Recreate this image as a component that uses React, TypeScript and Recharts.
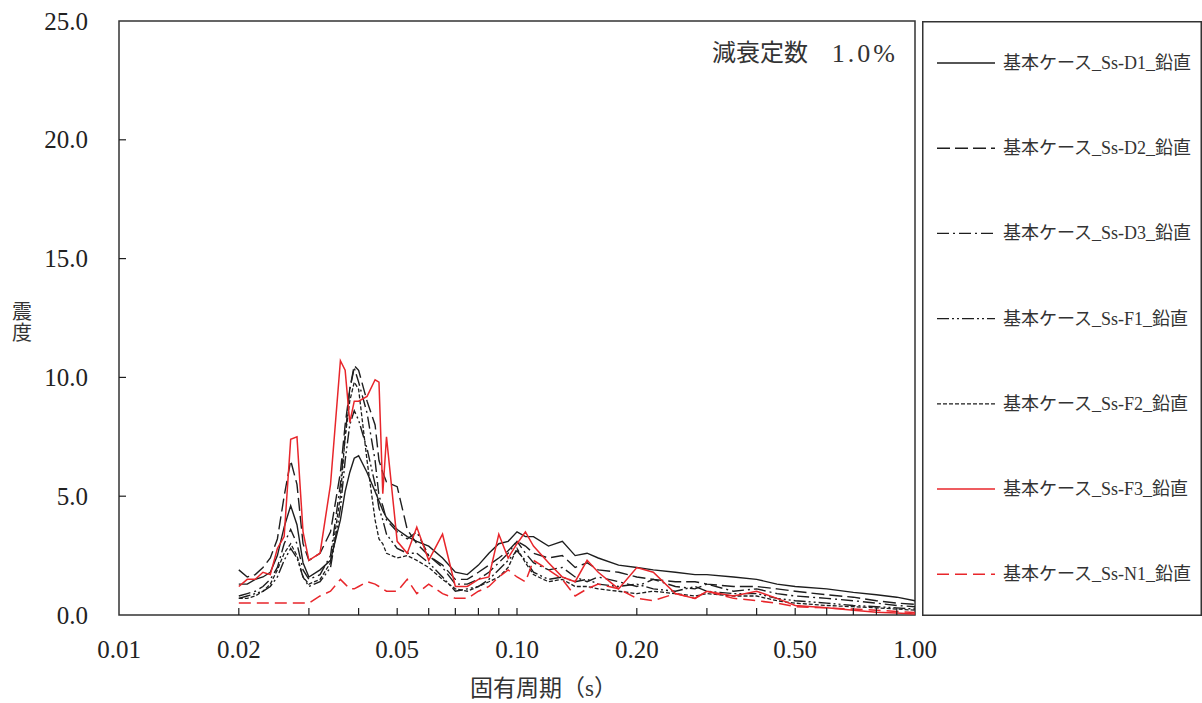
import { LineChart, Line, XAxis, YAxis, ReferenceArea } from "recharts";

// natural period (s)
const periods = [
  0.02, 0.021, 0.022, 0.023, 0.024, 0.025, 0.026, 0.027, 0.028, 0.029, 0.03,
  0.032, 0.034, 0.036, 0.037, 0.038, 0.039, 0.04, 0.042, 0.044, 0.045, 0.046,
  0.047, 0.05, 0.053, 0.056, 0.06, 0.065, 0.07, 0.075, 0.08, 0.085, 0.09,
  0.095, 0.1, 0.105, 0.11, 0.12, 0.13, 0.14, 0.15, 0.16, 0.18, 0.2, 0.22,
  0.25, 0.28, 0.3, 0.35, 0.4, 0.45, 0.5, 0.6, 0.7, 0.8, 0.9, 1.0,
];

const ssD1 = [
  1.3, 1.3, 1.5, 1.6, 1.8, 2.5, 3.7, 4.6, 3.8, 2.2, 1.6, 1.9, 2.3, 4.0, 5.2,
  6.0, 6.6, 6.7, 6.0, 5.2, 4.8, 4.4, 4.1, 3.6, 3.3, 3.1, 2.9, 2.4, 1.8, 1.7,
  2.1, 2.6, 3.0, 3.1, 3.5, 3.3, 3.3, 2.9, 3.1, 2.5, 2.6, 2.4, 2.1, 2.0, 1.9,
  1.8, 1.7, 1.7, 1.6, 1.5, 1.3, 1.2, 1.1, 0.95, 0.85, 0.75, 0.6,
];
const ssD2 = [
  1.9, 1.6, 1.7, 2.0, 2.4, 3.2, 5.0, 6.5, 5.5, 3.0, 2.3, 2.6, 3.5, 6.0, 8.0,
  9.5, 10.5, 10.3, 9.0, 8.0, 6.5, 6.0, 5.6, 5.4, 3.6, 3.0, 2.5, 2.1, 1.5, 1.5,
  1.8, 2.1, 2.4, 2.7, 3.1, 2.9, 2.6, 2.4, 2.5, 2.0, 2.2, 1.9, 1.8, 1.6, 1.5,
  1.4, 1.4, 1.3, 1.2, 1.2, 1.1, 1.0, 0.85, 0.75, 0.6, 0.5, 0.45,
];
const ssD3 = [
  0.8, 0.9, 1.0, 1.2, 1.5, 2.0, 3.0, 3.6, 3.0, 1.9, 1.5, 1.7, 2.5, 5.5, 7.5,
  9.5, 10.4, 9.8, 8.5, 6.5, 5.0, 4.6, 4.0, 3.5, 3.2, 3.5, 2.5, 2.0, 1.3, 1.3,
  1.5, 1.8, 2.2, 2.6, 3.1, 2.6, 2.2, 1.9, 2.0, 1.6, 1.4, 1.6, 1.4, 1.2, 1.5,
  1.2, 1.1, 1.3, 1.0, 1.1, 0.9, 0.8, 0.7, 0.6, 0.5, 0.4, 0.35,
];
const ssF1 = [
  0.7, 0.8, 0.9, 1.0, 1.2, 1.6, 2.3, 2.8, 2.4, 1.6, 1.2, 1.4, 2.0, 4.5, 6.5,
  8.0, 8.6, 8.2, 7.0, 5.5, 4.5, 4.0, 3.4, 2.8, 2.6, 2.6, 2.2, 1.6, 1.0, 1.1,
  1.2, 1.5, 1.9, 2.3, 2.7, 2.3, 1.8, 1.5, 1.6, 1.4, 1.5, 1.3, 1.2, 1.3, 1.1,
  1.0, 1.2, 1.0, 0.9, 0.9, 0.7, 0.6, 0.5, 0.4, 0.35, 0.3, 0.25,
];
const ssF2 = [
  0.7, 0.7, 0.8, 1.0, 1.3, 1.9, 2.6, 3.0, 2.5, 1.6, 1.3, 1.5, 2.2, 5.0, 7.5,
  9.0, 9.8, 9.5, 6.5, 4.0, 3.2, 3.0, 2.6, 2.4, 2.5, 2.3, 2.0, 1.5, 1.1, 1.0,
  1.2, 1.4, 1.6, 2.0, 2.8, 2.2, 1.7, 1.4, 1.5, 1.2, 1.2, 1.1, 1.0, 0.9, 1.0,
  0.9, 0.8, 0.9, 0.8, 0.8, 0.6, 0.5, 0.4, 0.35, 0.3, 0.25, 0.2,
];
const ssF3 = [
  1.2, 1.5, 1.5, 1.8, 1.7, 2.8, 3.3, 7.4, 7.5, 3.5, 2.3, 2.6, 5.5, 10.7, 10.3,
  8.1, 9.0, 9.0, 9.2, 9.9, 9.8, 5.1, 7.5, 3.1, 2.6, 3.7, 2.3, 3.4, 1.2, 1.2,
  1.5, 1.6, 3.4, 2.4, 3.0, 3.5, 2.9, 2.2, 1.6, 1.4, 2.3, 1.8, 1.1, 2.0, 1.8,
  0.9, 0.7, 1.0, 0.8, 1.0, 0.7, 0.4, 0.3, 0.2, 0.12, 0.08, 0.04,
];
const ssN1 = [
  0.5, 0.5, 0.5, 0.5, 0.5, 0.5, 0.5, 0.5, 0.5, 0.5, 0.5, 0.8, 1.0, 1.5, 1.3,
  1.1, 1.1, 1.2, 1.4, 1.3, 1.2, 1.1, 1.0, 1.0, 1.5, 0.9, 1.3, 0.9, 0.7, 0.7,
  1.0, 1.2, 1.6, 1.9, 1.6, 1.4, 2.3, 1.9, 1.5, 0.8, 1.1, 1.3, 1.1, 0.7, 0.6,
  0.9, 0.7, 1.0, 0.7, 0.6, 0.5, 0.35, 0.3, 0.25, 0.2, 0.15, 0.1,
];

const xTicks = [
  0.01, 0.02, 0.03, 0.04, 0.05, 0.06, 0.07, 0.08, 0.09, 0.1, 0.2, 0.3, 0.4,
  0.5, 0.6, 0.7, 0.8, 0.9, 1.0,
];
const xLabels = [0.01, 0.02, 0.05, 0.1, 0.2, 0.5, 1.0];
const yTicks = [0, 5, 10, 15, 20, 25];

const seriesNames = [
  "基本ケース_Ss-D1_鉛直",
  "基本ケース_Ss-D2_鉛直",
  "基本ケース_Ss-D3_鉛直",
  "基本ケース_Ss-F1_鉛直",
  "基本ケース_Ss-F2_鉛直",
  "基本ケース_Ss-F3_鉛直",
  "基本ケース_Ss-N1_鉛直",
];

const data = periods.map((p, i) => ({
  p,
  d1: ssD1[i],
  d2: ssD2[i],
  d3: ssD3[i],
  f1: ssF1[i],
  f2: ssF2[i],
  f3: ssF3[i],
  n1: ssN1[i],
}));

const BLACK = "#1e1e1e";
const RED = "#e8262b";
const series = [
  { key: "d1", color: BLACK, dash: undefined, w: 1.4 },
  { key: "d2", color: BLACK, dash: "13 5", w: 1.4 },
  { key: "d3", color: BLACK, dash: "12 4 2 4", w: 1.4 },
  { key: "f1", color: BLACK, dash: "12 3 2 3 2 3", w: 1.4 },
  { key: "f2", color: BLACK, dash: "4 2", w: 1.3 },
  { key: "f3", color: RED, dash: undefined, w: 1.5 },
  { key: "n1", color: RED, dash: "12 6", w: 1.5 },
];

const serif = '"Liberation Serif", "Noto Sans CJK JP", serif';

const XTick = (props: any) => {
  const { x, y, payload } = props;
  const v = payload.value;
  const inner = v > 0.0101 && v < 0.99;
  const labelled = xLabels.some((l) => Math.abs(l - v) < 1e-6);
  return (
    <g>
      {inner && <line x1={x} y1={y} x2={x} y2={y - 7} stroke={BLACK} strokeWidth={1.2} />}
      {labelled && (
        <text x={x} y={y + 34} textAnchor="middle" dominantBaseline="central" fontFamily={serif} fontSize={25} fill="#222">
          {v.toFixed(2)}
        </text>
      )}
    </g>
  );
};

const YTick = (props: any) => {
  const { x, y, payload } = props;
  const v = payload.value;
  const inner = v > 0 && v < 25;
  return (
    <g>
      {inner && <line x1={x} y1={y} x2={x + 7} y2={y} stroke={BLACK} strokeWidth={1.2} />}
      <text x={x - 31} y={y} textAnchor="end" dominantBaseline="central" fontFamily={serif} fontSize={25} fill="#222">
        {v.toFixed(1)}
      </text>
    </g>
  );
};

const LegendBox = () => (
  <svg width={280} height={595} style={{ position: "absolute", left: 922, top: 21 }}>
    <rect x={0.75} y={0.75} width={278.5} height={593.5} fill="#fff" stroke="#333" strokeWidth={1.5} />
    {series.map((s, i) => {
      const cy = 42 + i * 85.2;
      return (
        <g key={s.key}>
          <line x1={15} y1={cy} x2={73} y2={cy} stroke={s.color} strokeWidth={s.w} strokeDasharray={s.dash} />
          <text x={81} y={cy} dominantBaseline="central" fontFamily={serif} fontSize={18} fill="#333">
            {seriesNames[i]}
          </text>
        </g>
      );
    })}
  </svg>
);

export default function App() {
  return (
    <div style={{ position: "absolute", left: 0, top: 0, width: 1202, height: 703, background: "#fff" }}>
      <LineChart width={960} height={703} data={data} margin={{ top: 21, right: 45, left: 0, bottom: 0 }}>
        <XAxis
          dataKey="p"
          type="number"
          scale="log"
          domain={[0.01, 1]}
          ticks={xTicks}
          interval={0}
          height={88}
          tickSize={0}
          tickMargin={0}
          tickLine={false}
          axisLine={false}
          tick={<XTick />}
          allowDataOverflow
        />
        <YAxis
          type="number"
          domain={[0, 25]}
          ticks={yTicks}
          interval={0}
          width={119}
          tickSize={0}
          tickMargin={0}
          tickLine={false}
          axisLine={false}
          tick={<YTick />}
        />
        {series.map((s) => (
          <Line
            key={s.key}
            type="linear"
            dataKey={s.key}
            stroke={s.color}
            strokeWidth={s.w}
            strokeDasharray={s.dash}
            dot={false}
            activeDot={false}
            isAnimationActive={false}
          />
        ))}
        <ReferenceArea x1={0.01} x2={1} y1={0} y2={25} fill="none" stroke="#333" strokeWidth={1.5} />
      </LineChart>
      <svg width={1202} height={703} style={{ position: "absolute", left: 0, top: 0, pointerEvents: "none" }}>
        <text x={712} y={53} dominantBaseline="central" fontFamily={serif} fontSize={24} fill="#333">
          減衰定数
        </text>
        <text x={898} y={53} textAnchor="end" dominantBaseline="central" fontFamily={serif} fontSize={26} letterSpacing={3} fill="#333">
          1.0%
        </text>
        <text x={22} y={312} textAnchor="middle" dominantBaseline="central" fontFamily={serif} fontSize={20} fill="#333">
          震
        </text>
        <text x={22} y={333} textAnchor="middle" dominantBaseline="central" fontFamily={serif} fontSize={20} fill="#333">
          度
        </text>
        <text x={470} y={688} dominantBaseline="central" fontFamily={serif} fontSize={23} fill="#333">
          固有周期（s）
        </text>
      </svg>
      <LegendBox />
    </div>
  );
}
